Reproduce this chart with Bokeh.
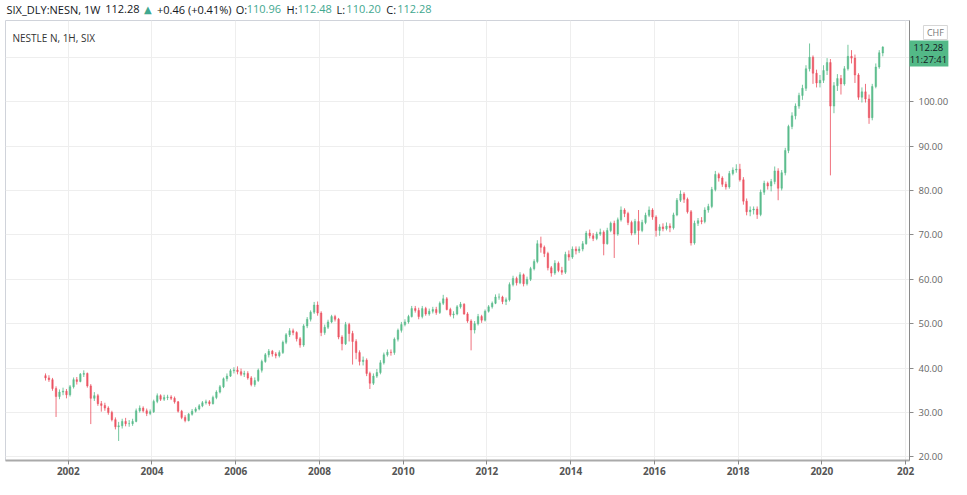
import numpy as np
import pandas as pd
from bokeh.plotting import figure
from bokeh.models import ColumnDataSource, Range1d, FixedTicker, DatetimeTickFormatter, NumeralTickFormatter
from bokeh.core.properties import value
from bokeh.embed import file_html
from bokeh.resources import INLINE

# ---------------- data ----------------
symbol = "SIX_DLY:NESN, 1W"
pane_title = "NESTLE N, 1H, SIX"
currency = "CHF"
last_price = "112.28"
countdown = "11:27:41"
change_text = "+0.46 (+0.41%)"
header_keys = ["O:", "H:", "L:", "C:"]
header_vals = ["110.96", "112.48", "110.20", "112.28"]

first_month = "2001-06"

opens = [
    38.3, 37.8, 37.4, 35.4, 33.6, 34.6, 34.8,
    34.0, 35.8, 37.4, 37.0, 38.6, 38.8, 36.0, 33.2, 33.8, 32.0, 31.6, 31.0,
    30.0, 28.4, 26.8, 27.0, 28.0, 27.5, 27.5, 28.0, 30.4, 31.0, 30.4, 29.8,
    30.2, 32.5, 33.8, 33.0, 33.4, 33.5, 33.2, 32.4, 30.3, 28.9, 28.2, 29.6,
    30.3, 30.8, 31.5, 32.2, 32.4, 32.0, 33.4, 34.6, 35.8, 37.6, 38.2, 39.4,
    39.6, 39.2, 38.6, 38.8, 37.8, 36.3, 37.2, 39.5, 41.5, 43.0, 43.8, 43.2,
    42.8, 43.5, 45.8, 47.5, 48.4, 48.0, 46.6, 45.2, 49.5, 51.0, 52.6, 54.2,
    52.4, 48.0, 49.2, 50.4, 51.6, 51.0, 47.0, 45.5, 49.8, 47.8, 46.0, 43.5,
    41.5, 41.8, 38.8, 36.6, 38.2, 39.0, 41.2, 43.0, 43.6, 43.5, 46.5, 48.5,
    49.8, 50.4, 51.6, 53.4, 53.0, 51.6, 53.4, 52.2, 52.8, 53.2, 52.5, 54.6,
    55.6, 53.2, 52.0, 52.2, 53.8, 54.4, 52.2, 50.6, 48.6, 50.0, 51.6, 50.8,
    52.8, 53.8, 54.6, 56.0, 56.0, 55.0, 55.4, 58.8, 60.2, 59.2, 61.0, 59.0,
    60.0, 62.4, 64.0, 68.0, 67.2, 65.8, 62.6, 61.4, 63.6, 62.0, 61.6, 65.6,
    65.0, 66.8, 66.4, 66.8, 68.0, 70.4, 69.8, 69.2, 70.2, 70.6, 68.0, 71.0,
    72.6, 70.2, 73.4, 75.6, 74.8, 72.8, 70.4, 73.0, 71.0, 72.8, 74.4, 75.6,
    74.0, 71.0, 71.8, 71.4, 72.0, 71.6, 74.5, 77.8, 79.2, 78.0, 75.2, 68.2,
    72.6, 73.2, 73.0, 75.6, 76.4, 80.2, 83.6, 82.8, 81.4, 80.8, 83.8, 84.6,
    84.8, 82.4, 77.6, 75.2, 75.6, 75.8, 74.6, 79.6, 81.6, 81.0, 82.0, 84.4,
    80.5, 84.0, 89.0, 94.4, 96.8, 99.0, 101.4, 103.0, 107.4, 110.0, 106.4, 104.2,
    104.8, 107.0, 108.8, 99.0, 103.6, 105.2, 104.0, 107.4, 110.2, 109.8, 106.0, 101.0,
    102.2, 100.6, 96.4, 103.4, 107.8, 110.96,
]

highs = [
    38.8, 38.4, 37.8, 35.9, 35.2, 35.6, 35.3,
    36.2, 37.9, 38.0, 38.9, 39.5, 39.0, 36.4, 34.6, 34.2, 32.6, 32.2, 31.4,
    30.4, 28.9, 27.9, 28.6, 28.8, 28.3, 28.6, 30.9, 31.6, 31.4, 30.9, 30.7,
    32.9, 34.3, 34.1, 34.0, 34.0, 33.9, 33.6, 32.6, 30.6, 29.4, 29.9, 30.8,
    31.2, 31.9, 32.6, 32.9, 32.8, 33.8, 35.0, 36.2, 37.9, 38.8, 39.8, 40.2,
    40.4, 39.9, 39.4, 39.3, 38.2, 37.9, 39.9, 41.9, 43.4, 44.3, 44.1, 43.6,
    44.0, 46.2, 47.9, 49.0, 48.9, 48.3, 47.0, 49.9, 51.5, 53.0, 54.9, 55.0,
    52.8, 49.8, 50.9, 52.0, 52.0, 51.3, 47.4, 50.4, 50.2, 48.4, 46.5, 44.0,
    42.6, 42.2, 39.2, 38.8, 39.8, 41.8, 43.5, 44.2, 44.2, 46.9, 48.9, 50.4,
    51.0, 52.0, 54.0, 54.0, 53.6, 54.0, 53.8, 53.4, 53.8, 53.8, 55.0, 56.5,
    56.0, 53.6, 52.8, 54.2, 54.9, 54.6, 52.6, 51.0, 50.6, 52.2, 52.0, 53.2,
    54.2, 55.0, 56.6, 56.8, 56.3, 55.9, 59.3, 60.8, 60.6, 61.6, 61.3, 60.6,
    62.8, 64.5, 68.8, 69.6, 67.6, 66.2, 63.0, 64.3, 64.0, 62.8, 66.2, 66.5,
    67.4, 67.4, 67.4, 68.6, 70.9, 71.2, 70.4, 70.7, 71.4, 71.0, 71.6, 73.0,
    73.2, 73.9, 76.4, 76.0, 75.2, 73.2, 73.6, 75.6, 73.4, 75.0, 76.4, 76.0,
    74.4, 72.4, 72.6, 72.8, 72.6, 75.0, 78.3, 80.0, 79.6, 78.4, 75.6, 73.2,
    73.8, 74.0, 76.2, 77.0, 80.8, 84.4, 84.0, 83.2, 82.0, 84.4, 85.2, 85.9,
    86.0, 83.0, 78.2, 76.4, 76.4, 76.4, 80.2, 82.2, 82.0, 82.6, 85.4, 85.0,
    84.6, 89.6, 94.8, 97.6, 99.6, 102.0, 103.8, 108.2, 113.1, 110.4, 107.2, 106.0,
    108.2, 109.8, 109.6, 104.4, 106.2, 106.0, 108.0, 112.8, 111.6, 110.6, 106.4, 103.2,
    104.0, 101.6, 104.0, 108.6, 111.6, 112.48,
]

lows = [
    37.2, 36.9, 34.9, 29.0, 33.0, 33.9, 33.2,
    33.6, 35.4, 36.3, 36.8, 38.0, 35.6, 27.4, 32.6, 31.5, 30.2, 30.4, 29.5,
    28.0, 26.2, 23.6, 26.4, 26.9, 26.8, 27.0, 27.8, 30.0, 30.0, 29.2, 29.4,
    29.9, 32.1, 32.6, 32.6, 32.8, 32.8, 32.0, 30.0, 28.5, 27.8, 28.0, 29.3,
    30.0, 30.5, 31.2, 31.8, 31.5, 31.8, 33.0, 34.3, 35.5, 37.0, 38.0, 38.8,
    38.6, 38.2, 38.0, 37.4, 35.9, 35.8, 36.9, 39.0, 41.2, 42.4, 42.6, 42.2,
    42.4, 43.2, 45.4, 47.0, 47.4, 46.0, 44.6, 44.8, 49.0, 50.5, 52.2, 51.8,
    47.2, 47.5, 48.8, 50.1, 50.5, 46.5, 44.0, 45.2, 46.0, 40.8, 42.0, 40.6,
    40.6, 38.2, 35.3, 36.2, 37.8, 38.6, 40.8, 42.6, 42.8, 43.0, 46.0, 48.0,
    49.4, 50.0, 51.4, 52.5, 51.0, 51.2, 51.8, 51.8, 52.3, 52.0, 52.2, 54.2,
    53.0, 51.6, 51.2, 51.9, 53.4, 52.0, 50.2, 44.0, 47.8, 49.6, 50.2, 50.5,
    52.5, 53.4, 54.4, 55.4, 54.4, 54.2, 55.0, 58.4, 58.6, 58.9, 58.4, 58.6,
    59.6, 62.0, 63.6, 66.0, 65.0, 62.0, 60.6, 61.0, 61.6, 61.0, 61.2, 64.2,
    64.6, 65.6, 65.9, 66.3, 67.8, 69.2, 68.6, 68.8, 69.8, 65.4, 67.8, 70.6,
    64.8, 69.8, 73.0, 74.0, 72.2, 69.9, 70.0, 67.8, 70.6, 72.4, 74.0, 73.4,
    69.6, 69.8, 70.8, 71.0, 70.6, 71.2, 74.2, 77.4, 77.2, 74.8, 67.6, 67.8,
    72.0, 72.4, 72.6, 75.0, 76.0, 79.8, 82.0, 80.8, 80.2, 80.4, 83.4, 84.0,
    82.0, 76.8, 74.4, 74.2, 74.6, 73.6, 74.2, 79.0, 80.2, 79.8, 81.4, 77.8,
    80.0, 83.4, 88.4, 93.8, 96.0, 98.4, 100.4, 102.4, 106.8, 104.0, 103.2, 103.2,
    104.2, 106.0, 83.4, 97.4, 102.4, 101.6, 103.6, 107.0, 108.6, 104.2, 100.4, 99.8,
    99.8, 95.0, 95.8, 103.0, 107.4, 110.20,
]

closes = [
    37.8, 37.4, 35.4, 33.6, 34.6, 34.8, 34.0,
    35.8, 37.4, 37.0, 38.6, 38.8, 36.0, 33.2, 33.8, 32.0, 31.6, 31.0, 30.0,
    28.4, 26.8, 27.0, 28.0, 27.5, 27.5, 28.0, 30.4, 31.0, 30.4, 29.8, 30.2,
    32.5, 33.8, 33.0, 33.4, 33.5, 33.2, 32.4, 30.3, 28.9, 28.2, 29.6, 30.3,
    30.8, 31.5, 32.2, 32.4, 32.0, 33.4, 34.6, 35.8, 37.6, 38.2, 39.4, 39.6,
    39.2, 38.6, 38.8, 37.8, 36.3, 37.2, 39.5, 41.5, 43.0, 43.8, 43.2, 42.8,
    43.5, 45.8, 47.5, 48.4, 48.0, 46.6, 45.2, 49.5, 51.0, 52.6, 54.2, 52.4,
    48.0, 49.2, 50.4, 51.6, 51.0, 47.0, 45.5, 49.8, 47.8, 46.0, 43.5, 41.5,
    41.8, 38.8, 36.6, 38.2, 39.0, 41.2, 43.0, 43.6, 43.5, 46.5, 48.5, 49.8,
    50.4, 51.6, 53.4, 53.0, 51.6, 53.4, 52.2, 52.8, 53.2, 52.5, 54.6, 55.6,
    53.2, 52.0, 52.2, 53.8, 54.4, 52.2, 50.6, 48.6, 50.0, 51.6, 50.8, 52.8,
    53.8, 54.6, 56.0, 56.0, 55.0, 55.4, 58.8, 60.2, 59.2, 61.0, 59.0, 60.0,
    62.4, 64.0, 68.0, 67.2, 65.8, 62.6, 61.4, 63.6, 62.0, 61.6, 65.6, 65.0,
    66.8, 66.4, 66.8, 68.0, 70.4, 69.8, 69.2, 70.2, 70.6, 68.0, 71.0, 72.6,
    70.2, 73.4, 75.6, 74.8, 72.8, 70.4, 73.0, 71.0, 72.8, 74.4, 75.6, 74.0,
    71.0, 71.8, 71.4, 72.0, 71.6, 74.5, 77.8, 79.2, 78.0, 75.2, 68.2, 72.6,
    73.2, 73.0, 75.6, 76.4, 80.2, 83.6, 82.8, 81.4, 80.8, 83.8, 84.6, 84.8,
    82.4, 77.6, 75.2, 75.6, 75.8, 74.6, 79.6, 81.6, 81.0, 82.0, 84.4, 80.5,
    84.0, 89.0, 94.4, 96.8, 99.0, 101.4, 103.0, 107.4, 110.0, 106.4, 104.2, 104.8,
    107.0, 108.8, 99.0, 103.6, 105.2, 104.0, 107.4, 110.2, 109.8, 106.0, 101.0, 102.2,
    100.6, 96.4, 103.4, 107.8, 111.0, 112.28,
]

year_ticks = [2002, 2004, 2006, 2008, 2010, 2012, 2014, 2016, 2018, 2020, 2022]
year_labels = ["2002", "2004", "2006", "2008", "2010", "2012", "2014", "2016", "2018", "2020", "202"]
price_ticks = [20, 30, 40, 50, 60, 70, 80, 90, 100, 110]

# ---------------- layout / styling ----------------
UP = "#53b987"
DOWN = "#eb4d5c"
FONT = "Open Sans"
W, H = 951, 479
FL, FT, FR, FB = 5, 20, 912, 460          # frame edges in figure pixels
X0, X1 = pd.Timestamp("2000-07-02"), pd.Timestamp("2022-02-04")
Y0, Y1 = 19.2, 118.27

months = pd.period_range(first_month, periods=len(closes), freq="M")
dates = months.to_timestamp(how="start") + pd.Timedelta(days=15)
o = np.array(opens)
c = np.array(closes)
src = ColumnDataSource(dict(
    date=dates, high=np.array(highs), low=np.array(lows),
    top=np.maximum(o, c), bottom=np.minimum(o, c),
    color=np.where(c >= o, UP, DOWN),
))

p = figure(width=W, height=H, x_axis_type="datetime", y_axis_location="right",
           x_range=Range1d(X0, X1), y_range=Range1d(Y0, Y1),
           output_backend="svg", toolbar_location=None, title=None,
           min_border_left=FL, min_border_right=W - FR, min_border_top=FT, min_border_bottom=H - FB)
p.background_fill_color = "white"
p.border_fill_color = "white"
p.outline_line_color = "#d0d3da"

p.segment(x0="date", y0="high", x1="date", y1="low", source=src, line_color="color",
          line_width=1, line_alpha=0.8)
p.vbar(x="date", width=14 * 24 * 3600 * 1000, top="top", bottom="bottom", source=src,
       fill_color="color", line_color="color", fill_alpha=0.8, line_alpha=0.8, line_width=0.5)

tick_ms = [int(pd.Timestamp(f"{y}-01-01").value // 10**6) for y in year_ticks]
xa = p.xaxis[0]
xa.ticker = FixedTicker(ticks=tick_ms)
xa.formatter = DatetimeTickFormatter(years="%Y", months="%Y", days="%Y")
xa.major_label_overrides = {t: lab for t, lab in zip(tick_ms, year_labels)}
xa.axis_line_color = "#aaaaaa"
xa.axis_line_width = 2
xa.major_tick_line_color = "#888888"
xa.major_tick_out = 4
xa.major_tick_in = 0
xa.minor_tick_line_color = None
xa.major_label_standoff = 2
xa.major_label_text_font = FONT
xa.major_label_text_font_size = "10px"
xa.major_label_text_font_style = "bold"
xa.major_label_text_color = "#555555"

ya = p.yaxis[0]
ya.ticker = FixedTicker(ticks=price_ticks)
ya.formatter = NumeralTickFormatter(format="0.00")
ya.axis_line_color = "#8a8a8a"
ya.major_tick_line_color = "#8a8a8a"
ya.major_tick_out = 4
ya.major_tick_in = 0
ya.minor_tick_line_color = None
ya.major_label_standoff = 5
ya.major_label_text_font = FONT
ya.major_label_text_font_size = "9.5px"
ya.major_label_text_color = "#666666"

p.xgrid.grid_line_color = "#eeeeee"
p.ygrid.grid_line_color = "#eeeeee"


# figure-pixel -> data helpers for texts and boxes drawn outside the frame
def px_x(fx):
    x0 = X0.value / 1e6
    x1 = X1.value / 1e6
    return x0 + (fx - FL) / (FR - FL) * (x1 - x0)


def px_y(fy):
    return Y1 - (fy - FT) / (FB - FT) * (Y1 - Y0)


DARK = "#131722"
TEAL = "#3fa88f"

# header line
hdr_text = [symbol, last_price, change_text]
hdr_x = [6, 105, 157]
hdr_col = [DARK, DARK, DARK]
for kx, vx, k, v in zip([236, 287, 337, 387], [247, 298, 347, 398], header_keys, header_vals):
    hdr_text += [k, v]
    hdr_x += [kx, vx]
    hdr_col += [DARK, TEAL]
p.text(x=[px_x(v) for v in hdr_x], y=[px_y(8.5)] * len(hdr_x), text=hdr_text,
       text_color=hdr_col, text_font_size="11px", text_font=value(FONT),
       text_baseline="middle", text_align="left", level="overlay")
p.text(x=[px_x(144)], y=[px_y(8.5)], text=["\u25B2"], text_color=TEAL,
       text_font_size="10px", text_font=value("DejaVu Sans"),
       text_baseline="middle", text_align="left", level="overlay")

# pane title
p.text(x=[px_x(12)], y=[px_y(37)], text=[pane_title], text_color="#333333",
       text_font_size="10px", text_font=value(FONT), text_baseline="middle", level="overlay")

# currency box
p.quad(left=[px_x(926)], right=[px_x(950)], top=[px_y(25)], bottom=[px_y(39)],
       fill_color="white", line_color="#d6d6d6", level="overlay")
p.text(x=[px_x(938)], y=[px_y(32)], text=[currency], text_color="#777777",
       text_font_size="9px", text_font=value(FONT), text_baseline="middle",
       text_align="center", level="overlay")

# last price box
p.quad(left=[px_x(912)], right=[px_x(951)], top=[px_y(40)], bottom=[px_y(66)],
       fill_color=UP, line_color=None, level="overlay")
p.text(x=[px_x(931), px_x(931)], y=[px_y(47), px_y(59)], text=[last_price, countdown],
       text_color=DARK, text_font_size="9.5px", text_font=value(FONT),
       text_baseline="middle", text_align="center", level="overlay")

open("out.html", "w").write(file_html(p, INLINE))
